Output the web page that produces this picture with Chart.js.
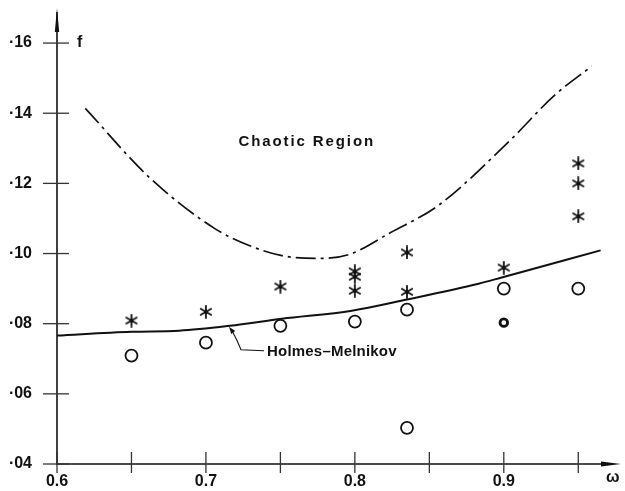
<!DOCTYPE html>
<html>
<head>
<meta charset="utf-8">
<script src="https://cdn.jsdelivr.net/npm/chart.js@4.4.0/dist/chart.umd.min.js"></script>
<style>
  html, body { margin: 0; padding: 0; background: #fff; }
  canvas { display: block; }
</style>
</head>
<body>
<canvas id="chart" width="625" height="491"></canvas>
<script>
// values (omega, f)
const starW = [0.65, 0.70, 0.75, 0.80, 0.80, 0.80, 0.835, 0.835, 0.90, 0.95, 0.95, 0.95];
const starF = [0.0809, 0.0834, 0.0906, 0.0949, 0.0934, 0.0894, 0.1003, 0.0891, 0.0960, 0.1257, 0.1200, 0.1106];

const circleW = [0.65, 0.70, 0.75, 0.80, 0.835, 0.835, 0.90, 0.95];
const circleF = [0.0709, 0.0746, 0.0794, 0.0806, 0.0840, 0.0503, 0.0900, 0.0900];

// the small heavy circle at 0.9
const dotW = [0.90];
const dotF = [0.0803];

// Holmes-Melnikov boundary (solid)
const holmesW = [0.60, 0.65, 0.682, 0.716, 0.751, 0.798, 0.835, 0.883, 0.898, 0.965];
const holmesF = [0.0766, 0.0777, 0.0780, 0.0794, 0.0814, 0.0837, 0.0869, 0.0914, 0.0931, 0.1009];

// upper chaos boundary (dash-dot)
const chaosW = [0.619, 0.662, 0.706, 0.729, 0.751, 0.776, 0.796, 0.824, 0.856, 0.905, 0.934, 0.959];
const chaosF = [0.1414, 0.1217, 0.1071, 0.1023, 0.0994, 0.0986, 0.0997, 0.1060, 0.1137, 0.1326, 0.1451, 0.1534];

const xTickVals = [0.6, 0.65, 0.7, 0.75, 0.8, 0.85, 0.9, 0.95];
const xTickLabels = ["0.6", "", "0.7", "", "0.8", "", "0.9", ""];
const yTickVals = [0.04, 0.06, 0.08, 0.10, 0.12, 0.14, 0.16];
const yTickLabels = ["·04", "·06", "·08", "·10", "·12", "·14", "·16"];

const FONT = "Liberation Sans, Arial, sans-serif";

function pts(xs, ys) {
  return xs.map((x, i) => ({ x: x, y: ys[i] }));
}

// six-armed asterisk marker
function makeStar(size) {
  const c = document.createElement("canvas");
  c.width = size;
  c.height = size;
  const g = c.getContext("2d");
  g.strokeStyle = "#111";
  g.lineWidth = 1.8;
  g.lineCap = "round";
  const m = size / 2, r = size / 2 - 1;
  g.beginPath();
  for (let k = 0; k < 3; k++) {
    const a = Math.PI / 2 + k * Math.PI / 3;
    g.moveTo(m + r * Math.cos(a), m + r * Math.sin(a));
    g.lineTo(m - r * Math.cos(a), m - r * Math.sin(a));
  }
  g.stroke();
  return c;
}

function arrowHead(ctx, x, y, ang, len, half) {
  ctx.beginPath();
  ctx.moveTo(x, y);
  ctx.lineTo(x - len * Math.cos(ang) + half * Math.sin(ang), y - len * Math.sin(ang) - half * Math.cos(ang));
  ctx.lineTo(x - len * Math.cos(ang) - half * Math.sin(ang), y - len * Math.sin(ang) + half * Math.cos(ang));
  ctx.closePath();
  ctx.fill();
}

// axes with crossing ticks, arrows and annotations
const axesPlugin = {
  id: "axesPlugin",
  afterDraw(chart) {
    const ctx = chart.ctx;
    const xs = chart.scales.x, ys = chart.scales.y;
    const x0 = xs.getPixelForValue(0.6);
    const y0 = ys.getPixelForValue(0.04);
    ctx.save();
    ctx.strokeStyle = "#111";
    ctx.fillStyle = "#111";
    ctx.lineWidth = 1.6;

    // y axis
    ctx.beginPath();
    ctx.moveTo(x0, y0 + 1);
    ctx.lineTo(x0, chart.chartArea.top + 4);
    ctx.stroke();
    arrowHead(ctx, x0, chart.chartArea.top, -Math.PI / 2, 24, 2.2);

    // x axis
    ctx.beginPath();
    ctx.moveTo(x0 - 1, y0);
    ctx.lineTo(chart.chartArea.right - 4, y0);
    ctx.stroke();
    arrowHead(ctx, chart.chartArea.right + 4, y0, 0, 20, 2.4);

    // ticks
    ctx.lineWidth = 1.3;
    ctx.strokeStyle = "#333";
    yTickVals.forEach((v) => {
      const py = ys.getPixelForValue(v);
      ctx.beginPath();
      ctx.moveTo(x0 - 14, py);
      ctx.lineTo(x0 + 12, py);
      ctx.stroke();
    });
    xTickVals.forEach((v) => {
      const px = xs.getPixelForValue(v);
      ctx.beginPath();
      ctx.moveTo(px, y0 - 12);
      ctx.lineTo(px, y0 + 9);
      ctx.stroke();
    });

    // axis names
    ctx.fillStyle = "#111";
    ctx.font = "bold 16px " + FONT;
    ctx.textBaseline = "middle";
    ctx.textAlign = "left";
    ctx.fillText("f", x0 + 20, ys.getPixelForValue(0.16));
    ctx.fillText("ω", chart.chartArea.right - 11, y0 + 14);

    // region label
    ctx.font = "bold 15px " + FONT;
    ctx.letterSpacing = "1.9px";
    ctx.textAlign = "center";
    ctx.fillText("Chaotic Region", xs.getPixelForValue(0.7677), ys.getPixelForValue(0.1318));

    // Holmes-Melnikov label with leader
    const ax = xs.getPixelForValue(0.7155);
    const ay = ys.getPixelForValue(0.0794);
    ctx.textAlign = "left";
    ctx.letterSpacing = "0.2px";
    ctx.fillText("Holmes\u2013Melnikov", ax + 38, ay + 26);
    ctx.letterSpacing = "0px";
    ctx.lineWidth = 1.1;
    ctx.strokeStyle = "#111";
    ctx.beginPath();
    ctx.moveTo(ax + 35, ay + 25);
    ctx.lineTo(ax + 12, ay + 24);
    ctx.quadraticCurveTo(ax + 8, ay + 14, ax + 3, ay + 5);
    ctx.stroke();
    arrowHead(ctx, ax, ay + 1, Math.atan2(-4, -3), 7, 2.5);

    ctx.restore();
  }
};

const starImg = makeStar(14);

new Chart(document.getElementById("chart"), {
  type: "scatter",
  data: {
    datasets: [
      {
        label: "Holmes-Melnikov",
        data: pts(holmesW, holmesF),
        showLine: true,
        borderColor: "#111",
        borderWidth: 2,
        pointRadius: 0,
        cubicInterpolationMode: "monotone"
      },
      {
        label: "Chaos boundary",
        data: pts(chaosW, chaosF),
        showLine: true,
        borderColor: "#111",
        borderWidth: 1.7,
        borderDash: [20, 5, 3, 5],
        pointRadius: 0,
        cubicInterpolationMode: "monotone"
      },
      {
        label: "Chaotic",
        data: pts(starW, starF),
        pointStyle: starImg,
        pointRadius: 7
      },
      {
        label: "Periodic",
        data: pts(circleW, circleF),
        pointStyle: "circle",
        pointRadius: 6,
        borderWidth: 1.8,
        borderColor: "#111",
        backgroundColor: "#fff"
      },
      {
        label: "Periodic (small)",
        data: pts(dotW, dotF),
        pointStyle: "circle",
        pointRadius: 3.8,
        borderWidth: 2.8,
        borderColor: "#111",
        backgroundColor: "#fff"
      }
    ]
  },
  options: {
    responsive: false,
    animation: false,
    layout: { padding: { top: 8, right: 5, left: 0, bottom: 0 } },
    plugins: {
      legend: { display: false },
      tooltip: { enabled: false }
    },
    scales: {
      x: {
        type: "linear",
        min: 0.6,
        max: 0.976,
        grid: { display: false },
        border: { display: false },
        afterBuildTicks: (s) => { s.ticks = xTickVals.map((v) => ({ value: v })); },
        afterFit: (s) => { s.height = 27; s.paddingLeft = 0; s.paddingRight = 0; },
        ticks: {
          color: "#111",
          padding: 0,
          maxRotation: 0,
          autoSkip: false,
          font: { family: FONT, size: 16, weight: "bold" },
          callback: (v, i) => xTickLabels[i]
        }
      },
      y: {
        type: "linear",
        min: 0.04,
        max: 0.17,
        grid: { display: false },
        border: { display: false },
        afterBuildTicks: (s) => { s.ticks = yTickVals.map((v) => ({ value: v })); },
        afterFit: (s) => { s.width = 57; s.paddingTop = 0; s.paddingBottom = 0; },
        ticks: {
          color: "#111",
          padding: 17,
          autoSkip: false,
          font: { family: FONT, size: 16, weight: "bold" },
          callback: (v, i) => yTickLabels[i]
        }
      }
    }
  },
  plugins: [axesPlugin]
});
</script>
</body>
</html>
